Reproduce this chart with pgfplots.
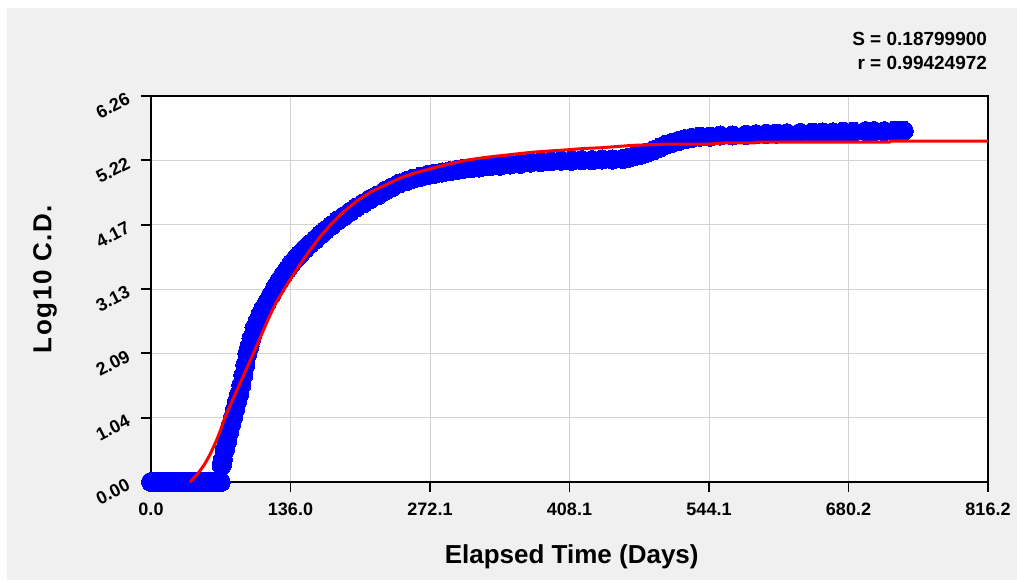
\documentclass[border=0pt]{standalone}
\usepackage{pgfplots}
\pgfplotsset{compat=1.18}
\usepackage{fontspec}
\setmainfont{Liberation Sans}
\definecolor{bggray}{RGB}{240,240,240}
\definecolor{gridgray}{RGB}{210,210,210}
\definecolor{pblue}{RGB}{0,0,255}
\definecolor{pred}{RGB}{255,0,0}

\pgfplotstableread{
x y
0 0
4 0
8 0
12 0
16 0
20 0
24 0
28 0
32 0
36 0
40 0
44 0
48 0
52 0
56 0
60 0
64 0
68 0
69 0.27
70 0.36
72 0.52
74 0.65
76 0.80
78 0.93
80 1.05
82 1.18
84 1.31
86 1.43
88 1.57
90 1.73
92 1.90
94 2.08
96 2.20
98 2.33
101 2.50
104 2.61
107 2.72
110 2.82
113 2.91
117 3.03
121 3.15
125 3.26
129 3.36
133 3.45
137 3.54
141 3.62
145 3.69
150 3.78
155 3.86
160 3.93
165 4.01
170 4.08
176 4.16
182 4.24
188 4.31
194 4.38
200 4.45
207 4.52
214 4.59
221 4.65
228 4.72
235 4.78
242 4.84
249 4.88
256 4.92
263 4.95
270 4.98
277 5.00
284 5.02
291 5.04
298 5.06
305 5.08
312 5.09
320 5.10
330 5.12
340 5.13
350 5.15
360 5.16
370 5.18
380 5.19
390 5.20
400 5.21
410 5.21
420 5.22
430 5.22
440 5.23
450 5.23
460 5.24
466 5.26
472 5.29
478 5.31
484 5.34
490 5.38
496 5.42
502 5.47
508 5.50
514 5.53
520 5.56
527 5.58
535 5.60
545 5.60
555 5.62
567 5.62
580 5.63
590 5.64
600 5.645
610 5.65
620 5.655
633 5.66
645 5.665
655 5.67
665 5.67
675 5.68
685 5.68
697 5.69
705 5.69
715 5.69
725 5.695
734 5.695
}\blueData

\pgfplotstableread{
x y
38 0.00
45 0.12
52 0.28
58 0.46
64 0.68
68 0.85
72 1.04
79 1.31
86 1.57
93 1.83
100 2.09
107 2.36
114 2.63
121 2.88
130 3.13
136 3.29
145 3.52
155 3.76
165 3.98
175 4.17
187 4.37
200 4.55
215 4.71
229 4.82
243 4.93
259 5.02
275 5.09
291 5.16
308 5.22
324 5.26
340 5.29
356 5.32
373 5.35
390 5.37
408 5.39
423 5.41
438 5.42
454 5.44
470 5.46
486 5.47
503 5.48
544 5.48
560 5.50
589 5.50
590 5.51
720 5.51
721 5.53
816.2 5.53
}\redData

\begin{document}
\begin{tikzpicture}[x=1pt,y=1pt]
\fill[white] (0,0) rectangle (508.5,290);
\fill[bggray] (3.5,0) rectangle (508.5,286);
\begin{axis}[
  at={(75.5pt,49pt)}, anchor=south west,
  scale only axis, width=418.5pt, height=193pt,
  xmin=0, xmax=816.2, ymin=0, ymax=6.26,
  clip=false, clip marker paths=true,
  axis background/.style={fill=white},
  axis line style={black, line width=1pt},
  xtick={0,136.0333,272.0667,408.1,544.1333,680.1667,816.2},
  xticklabels={0.0,136.0,272.1,408.1,544.1,680.2,816.2},
  ytick={0,1.043333,2.086667,3.13,4.173333,5.216667,6.26},
  yticklabels={0.00,1.04,2.09,3.13,4.17,5.22,6.26},
  minor tick num=3,
  tick align=outside,
  xtick pos=bottom, ytick pos=left,
  major tick length=5pt, minor tick length=2.8pt,
  every tick/.style={black, line width=0.9pt},
  grid=major,
  major grid style={gridgray, line width=0.5pt},
  ticklabel style={font=\bfseries\fontsize{9}{10}\selectfont},
  xticklabel style={yshift=-2pt},
  yticklabel style={rotate=27, anchor=east, xshift=-2.5pt, yshift=2pt},
]
\addplot[color=pblue, only marks, mark=*, mark size=4.8pt, mark options={draw=pblue, fill=pblue, line width=0pt}] table[x=x,y=y] {\blueData};
\addplot[pred, line width=1.5pt, no marks] table[x=x,y=y] {\redData};
\end{axis}
\node[font=\bfseries\fontsize{13}{15}\selectfont] at (285.85,11.5) {Elapsed Time (Days)};
\node[font=\bfseries\fontsize{13}{15}\selectfont\addfontfeature{LetterSpace=6}, rotate=90] at (22.5,150.5) {Log10 C.D.};
\node[font=\bfseries\fontsize{9.5}{11}\selectfont, anchor=base east, inner sep=0pt] at (493.7,267.2) {S = 0.18799900};
\node[font=\bfseries\fontsize{9.5}{11}\selectfont, anchor=base east, inner sep=0pt] at (493.7,255) {r = 0.99424972};
\pgfresetboundingbox
\useasboundingbox (0,0) rectangle (508.5,290);
\end{tikzpicture}
\end{document}
